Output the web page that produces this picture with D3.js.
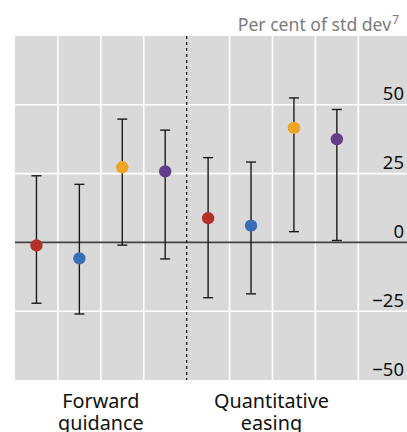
<!DOCTYPE html>
<html>
<head>
<meta charset="utf-8">
<script src="https://cdn.jsdelivr.net/npm/d3@7"></script>
<style>
  html, body { margin: 0; padding: 0; background: #fff; }
  svg { display: block; font-family: "Noto Sans", "Open Sans", sans-serif; }
</style>
</head>
<body>
<svg id="chart" width="407" height="432"></svg>
<script>
// Estimated effects, per cent of a standard deviation
const categories = ["fg1", "fg2", "fg3", "fg4", "qe1", "qe2", "qe3", "qe4"];
const pointValues = [-1.1, -5.8, 27.3, 25.8, 8.8, 6.1, 41.6, 37.5];
const upperValues = [24.2, 21.1, 44.8, 40.8, 30.8, 29.2, 52.5, 48.3];
const lowerValues = [-22.1, -26.0, -1.0, -6.0, -20.1, -18.7, 3.9, 0.7];
const pointColors = ["#b2312b", "#3a6db3", "#eda523", "#653e8b", "#b2312b", "#3a6db3", "#eda523", "#653e8b"];
const groupLabels = [["Forward", "guidance"], ["Quantitative", "easing"]];
const groupCategories = [["fg1", "fg2", "fg3", "fg4"], ["qe1", "qe2", "qe3", "qe4"]];
const yTicks = [-50, -25, 0, 25, 50];
const unitLabel = "Per cent of std dev";
const unitNote = "7";

const svg = d3.select("#chart");
const plot = { left: 15, right: 407, top: 36, bottom: 380 };
const bandRight = 358.3;

const x = d3.scaleBand().domain(categories).range([plot.left, bandRight]).padding(0);
const y = d3.scaleLinear().domain([-50, 75]).range([plot.bottom, plot.top]);

// Plot background
svg.append("rect")
  .attr("x", plot.left).attr("y", plot.top)
  .attr("width", plot.right - plot.left).attr("height", plot.bottom - plot.top)
  .attr("fill", "#d9d9d9");

// Horizontal grid lines
const gridY = [-25, 25, 50];
svg.append("g").selectAll("line").data(gridY).join("line")
  .attr("x1", plot.left - 1).attr("x2", plot.right)
  .attr("y1", d => y(d)).attr("y2", d => y(d))
  .attr("stroke", "#fff").attr("stroke-width", 1.6);

// Vertical grid lines at band boundaries (group divider drawn dashed)
const edges = categories.slice(1).map(c => x(c)).concat([x(categories[7]) + x.bandwidth()]);
const divider = x("qe1");
svg.append("g").selectAll("line").data(edges.filter(e => Math.abs(e - divider) > 1)).join("line")
  .attr("x1", d => d).attr("x2", d => d)
  .attr("y1", plot.top).attr("y2", plot.bottom)
  .attr("stroke", "#fff").attr("stroke-width", 1.6);

// Zero line
svg.append("line")
  .attr("x1", plot.left).attr("x2", plot.right)
  .attr("y1", y(0)).attr("y2", y(0))
  .attr("stroke", "#444").attr("stroke-width", 1.6);

// Divider between the two groups
svg.append("line")
  .attr("x1", divider).attr("x2", divider)
  .attr("y1", plot.top).attr("y2", plot.bottom)
  .attr("stroke", "#111").attr("stroke-width", 1.2)
  .attr("stroke-dasharray", "3,3");

// Y axis labels, right-aligned above their grid lines
const yAxis = d3.axisRight(y).tickValues(yTicks).tickSize(0)
  .tickFormat(d => d < 0 ? "\u2212" + Math.abs(d) : String(d));
const gy = svg.append("g").attr("transform", `translate(${plot.right - 3},0)`).call(yAxis);
gy.select(".domain").remove();
gy.selectAll("text")
  .attr("x", 0).attr("dy", -5)
  .attr("text-anchor", "end")
  .attr("font-size", 18.5)
  .attr("fill", "#111")
  .style("font-family", "'Noto Sans', 'Open Sans', sans-serif");

// Error bars
const cx = i => x(categories[i]) + x.bandwidth() / 2;
const capW = 5;
const bars = svg.append("g").attr("stroke", "#1a1a1a").attr("stroke-width", 1.4);
bars.selectAll("line.stem").data(categories).join("line").attr("class", "stem")
  .attr("x1", (d, i) => cx(i)).attr("x2", (d, i) => cx(i))
  .attr("y1", (d, i) => y(upperValues[i])).attr("y2", (d, i) => y(lowerValues[i]));
bars.selectAll("line.top").data(categories).join("line").attr("class", "top")
  .attr("x1", (d, i) => cx(i) - capW).attr("x2", (d, i) => cx(i) + capW)
  .attr("y1", (d, i) => y(upperValues[i])).attr("y2", (d, i) => y(upperValues[i]));
bars.selectAll("line.bot").data(categories).join("line").attr("class", "bot")
  .attr("x1", (d, i) => cx(i) - capW).attr("x2", (d, i) => cx(i) + capW)
  .attr("y1", (d, i) => y(lowerValues[i])).attr("y2", (d, i) => y(lowerValues[i]));

// Point estimates
svg.append("g").selectAll("circle").data(categories).join("circle")
  .attr("cx", (d, i) => cx(i)).attr("cy", (d, i) => y(pointValues[i]))
  .attr("r", 6.2)
  .attr("fill", (d, i) => pointColors[i]);

// Unit label
const unit = svg.append("text")
  .attr("x", 399).attr("y", 31)
  .attr("text-anchor", "end")
  .attr("font-size", 17.6)
  .attr("fill", "#7a7a7a");
unit.append("tspan").text(unitLabel);
unit.append("tspan").attr("font-size", 12).attr("dy", -7).attr("dx", 1).text(unitNote);

// Group labels below the plot
const groupShift = [0, -1];
groupLabels.forEach((lines, g) => {
  const cats = groupCategories[g];
  const gx = (x(cats[0]) + x(cats[cats.length - 1]) + x.bandwidth()) / 2 + groupShift[g];
  const t = svg.append("text")
    .attr("x", gx).attr("y", 408)
    .attr("text-anchor", "middle")
    .attr("font-size", 19.8)
    .attr("fill", "#111");
  lines.forEach((ln, k) => {
    t.append("tspan").attr("x", gx).attr("dy", k === 0 ? 0 : 21.5).text(ln);
  });
});
</script>
</body>
</html>
